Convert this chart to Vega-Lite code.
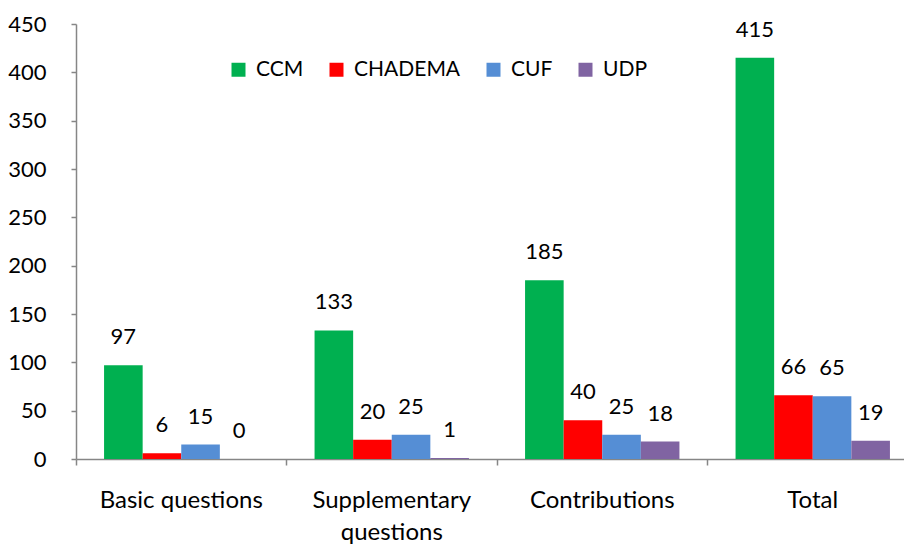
{
  "$schema": "https://vega.github.io/schema/vega-lite/v6.json",
  "width": 828,
  "height": 435,
  "autosize": {"type": "none"},
  "padding": {"left": 76, "top": 24, "right": 0, "bottom": 85},
  "background": "white",
  "config": {"view": {"stroke": null}, "font": "Lato"},
  "data": {
    "values": [
      {"category": "Basic questions", "party": "CCM", "value": 97},
      {"category": "Basic questions", "party": "CHADEMA", "value": 6},
      {"category": "Basic questions", "party": "CUF", "value": 15},
      {"category": "Basic questions", "party": "UDP", "value": 0},
      {"category": "Supplementary questions", "party": "CCM", "value": 133},
      {"category": "Supplementary questions", "party": "CHADEMA", "value": 20},
      {"category": "Supplementary questions", "party": "CUF", "value": 25},
      {"category": "Supplementary questions", "party": "UDP", "value": 1},
      {"category": "Contributions", "party": "CCM", "value": 185},
      {"category": "Contributions", "party": "CHADEMA", "value": 40},
      {"category": "Contributions", "party": "CUF", "value": 25},
      {"category": "Contributions", "party": "UDP", "value": 18},
      {"category": "Total", "party": "CCM", "value": 415},
      {"category": "Total", "party": "CHADEMA", "value": 66},
      {"category": "Total", "party": "CUF", "value": 65},
      {"category": "Total", "party": "UDP", "value": 19}
    ]
  },
  "encoding": {
    "x": {
      "field": "category", "type": "nominal", "sort": null,
      "scale": {"range": [0, 842], "paddingInner": 0, "paddingOuter": 0},
      "axis": {
        "title": null, "labelAngle": 0, "bandPosition": 0,
        "domainColor": "#868686", "domainWidth": 1.5, "tickColor": "#868686", "tickWidth": 1.5, "tickSize": 6,
        "labelFontSize": 24, "labelColor": "#000000", "labelPadding": 23,
        "labelExpr": "datum.label == 'Supplementary questions' ? ['Supplementary', 'questions'] : datum.label",
        "labelLineHeight": 32
      }
    },
    "xOffset": {
      "field": "party", "type": "nominal", "sort": ["CCM", "CHADEMA", "CUF", "UDP"],
      "scale": {"paddingInner": 0, "paddingOuter": 0.727}
    },
    "y": {
      "field": "value", "type": "quantitative",
      "scale": {"domain": [0, 450], "nice": false},
      "axis": {
        "title": null, "values": [0, 50, 100, 150, 200, 250, 300, 350, 400, 450],
        "grid": false, "domainColor": "#868686", "domainWidth": 1.5, "tickColor": "#868686", "tickWidth": 1.5, "tickSize": 5,
        "labelFontSize": 22, "labelColor": "#000000", "labelPadding": 25
      }
    }
  },
  "layer": [
    {
      "mark": {"type": "bar", "clip": false},
      "encoding": {
        "color": {
          "field": "party", "type": "nominal", "sort": ["CCM", "CHADEMA", "CUF", "UDP"],
          "scale": {"domain": ["CCM", "CHADEMA", "CUF", "UDP"], "range": ["#00B050", "#FF0000", "#558ED5", "#8064A2"]},
          "legend": {
            "title": null, "orient": "none", "direction": "horizontal",
            "legendX": 152, "legendY": 35,
            "symbolType": "square", "symbolSize": 196, "symbolStrokeWidth": 0,
            "labelFontSize": 21, "labelColor": "#000000", "labelOffset": 7,
            "columnPadding": 22
          }
        }
      }
    },
    {
      "mark": {"type": "text", "baseline": "bottom", "dy": -16, "fontSize": 22, "color": "#000000"},
      "encoding": {"text": {"field": "value", "type": "quantitative"}}
    }
  ]
}
